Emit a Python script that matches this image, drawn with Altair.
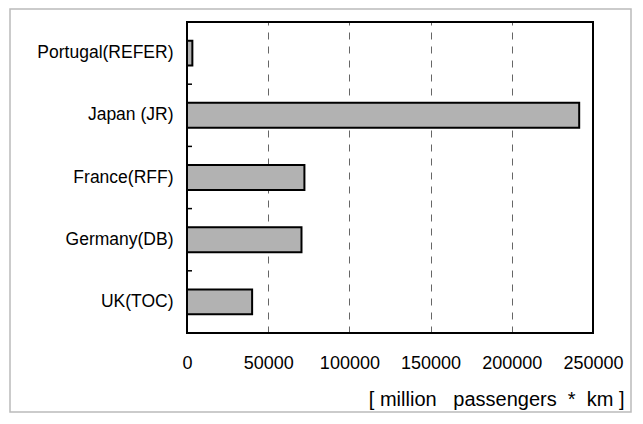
import altair as alt
import pandas as pd

categories = ["Portugal(REFER)", "Japan (JR)", "France(RFF)", "Germany(DB)", "UK(TOC)"]
values = [3300, 241500, 72300, 70500, 40100]
x_ticks = [0, 50000, 100000, 150000, 200000, 250000]
x_title = "[\u00a0million\u00a0\u00a0\u00a0passengers\u00a0\u00a0*\u00a0\u00a0km\u00a0]"

df = pd.DataFrame({"operator": categories, "pkm": values})
boundaries = pd.DataFrame({"operator": categories[1:]})

FONT = "Liberation Sans"
W, H = 406, 311

bars = alt.Chart(df).mark_bar(
    fill="#b2b2b2", stroke="black", strokeWidth=2
).encode(
    y=alt.Y(
        "operator:N", sort=categories, title=None,
        scale=alt.Scale(paddingInner=0.6, paddingOuter=0.3),
        axis=alt.Axis(domain=False, ticks=False, labelPadding=14,
                      labelFontSize=17.5, labelColor="black", labelFont=FONT),
    ),
    x=alt.X(
        "pkm:Q", title=x_title,
        scale=alt.Scale(domain=[0, 250000], nice=False),
        axis=alt.Axis(
            values=x_ticks, ticks=False, domain=False, format="d",
            labelOverlap=False, labelFlush=False,
            grid=True, gridDash=[7, 7], gridColor="#666666", gridWidth=1,
            labelFontSize=18, labelColor="black", labelFont=FONT, labelPadding=21,
            titleFontSize=20, titleFontWeight="normal", titleColor="black", titleFont=FONT,
            titleAnchor="end", titleAlign="right", titleX=437, titleY=72,
            titleBaseline="alphabetic",
        ),
    ),
)

ticks = alt.Chart(boundaries).mark_rule(color="black", strokeWidth=1.5).encode(
    y=alt.Y("operator:N", sort=categories, bandPosition=0,
            scale=alt.Scale(paddingInner=0, paddingOuter=0, domain=categories), axis=None),
    x=alt.value(0),
    x2=alt.value(5),
)

frame = alt.Chart(alt.Data(values=[{"a": 1}])).mark_rect(
    fill=None, stroke="#bbbbbb", strokeWidth=1.5
).encode(
    x=alt.value(-177), x2=alt.value(444), y=alt.value(-13), y2=alt.value(390)
)

plot_border = alt.Chart(alt.Data(values=[{"a": 1}])).mark_rect(
    fill=None, stroke="black", strokeWidth=2
).encode(
    x=alt.value(0), x2=alt.value(W), y=alt.value(0), y2=alt.value(H)
)

chart = alt.layer(frame, bars, ticks, plot_border).resolve_scale(y="independent").properties(
    width=W, height=H,
    autosize=alt.AutoSizeParams(type="none"),
    padding={"left": 179, "top": 14, "right": 40, "bottom": 80},
).configure_view(stroke=None).configure(background="white")

chart.save("out.html", embed_options={"renderer": "svg", "actions": False})
